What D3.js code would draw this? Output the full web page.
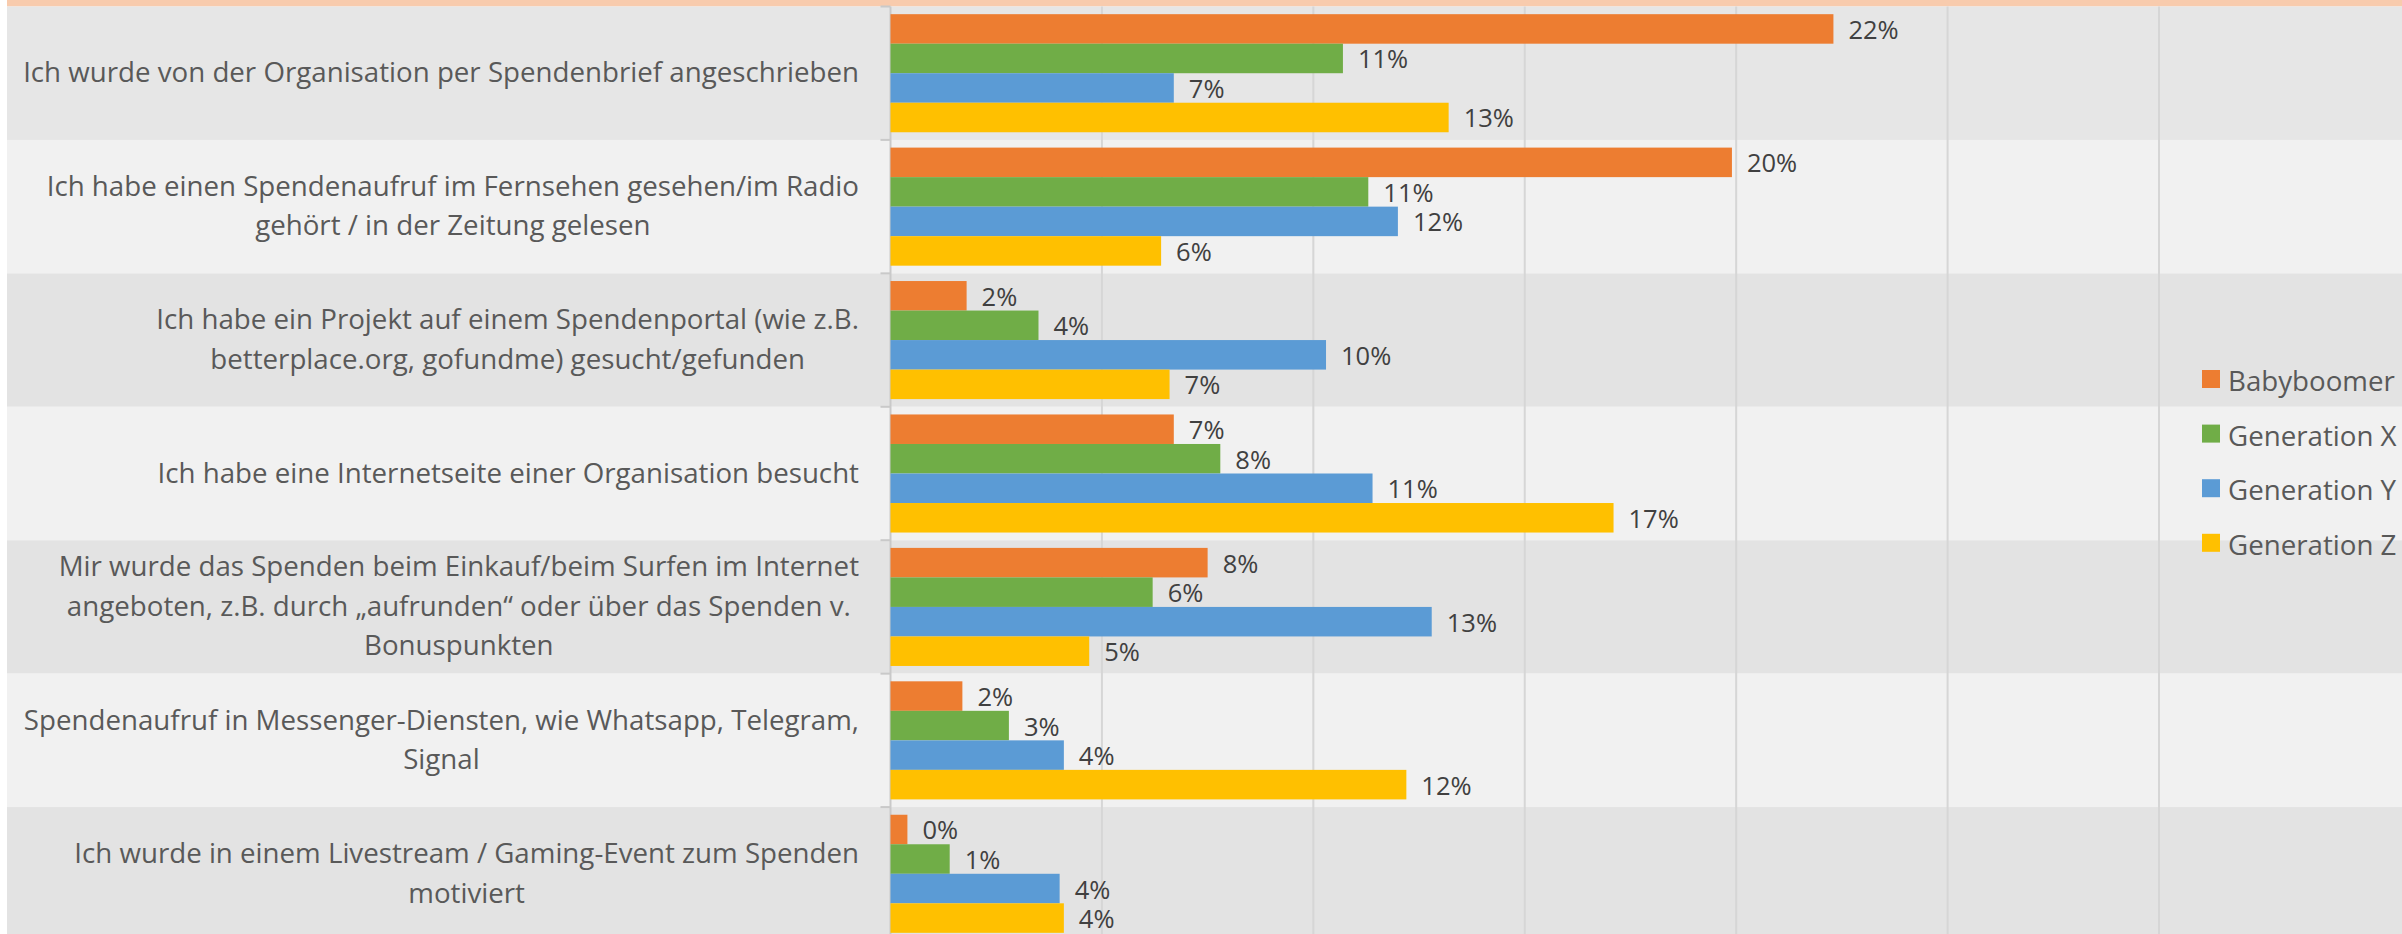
<!DOCTYPE html>
<html>
<head>
<meta charset="utf-8">
<script src="https://cdn.jsdelivr.net/npm/d3@7"></script>
<style>
    body { margin: 0; background: #ffffff; }
    svg { display: block; }
</style>
</head>
<body>
<div id="chart"></div>
<script>
//
// Grouped horizontal bar chart - Spendenanlass nach Generation
//

const categories = [
    "Ich wurde von der Organisation per Spendenbrief angeschrieben",
    "Ich habe einen Spendenaufruf im Fernsehen gesehen/im Radio\ngehört / in der Zeitung gelesen",
    "Ich habe ein Projekt auf einem Spendenportal (wie z.B.\nbetterplace.org, gofundme) gesucht/gefunden",
    "Ich habe eine Internetseite einer Organisation besucht",
    "Mir wurde das Spenden beim Einkauf/beim Surfen im Internet\nangeboten, z.B. durch „aufrunden“ oder über das Spenden v.\nBonuspunkten",
    "Spendenaufruf in Messenger-Diensten, wie Whatsapp, Telegram,\nSignal",
    "Ich wurde in einem Livestream / Gaming-Event zum Spenden\nmotiviert"
];

const seriesNames = ["Babyboomer", "Generation X", "Generation Y", "Generation Z"];

// values in percent
const babyboomer = [22.3, 19.9, 1.8, 6.7, 7.5, 1.7, 0.4];
const generationX = [10.7, 11.3, 3.5, 7.8, 6.2, 2.8, 1.4];
const generationY = [6.7, 12.0, 10.3, 11.4, 12.8, 4.1, 4.0];
const generationZ = [13.2, 6.4, 6.6, 17.1, 4.7, 12.2, 4.1];

const gridTicks = [5, 10, 15, 20, 25, 30];

var _width = 2402;
var _height = 934;
var _colors = ['#ED7D31', '#70AD47', '#5B9BD5', '#FFC000'];
var _rowColors = ['#E3E3E3', '#F1F1F1'];
var _font = "'Open Sans', 'Noto Sans', sans-serif";

function drawChart(divName) {
    var seriesValues = [babyboomer, generationX, generationY, generationZ];
    var data = categories.map(function (c, i) {
        return {
            cat: c, idx: i,
            values: seriesNames.map(function (s, j) { return { name: s, value: seriesValues[j][i] }; })
        };
    });

    var svg = d3.select("#" + divName)
        .append("svg")
        .attr("width", _width)
        .attr("height", _height);

    var x = d3.scaleLinear().domain([0, 30]).range([890.5, 2159]);
    var y0 = d3.scaleBand().domain(d3.range(categories.length)).range([6.5, 940.5]).padding(0);
    var y1 = d3.scaleBand().domain(seriesNames).range([0, y0.bandwidth()]).paddingInner(0).paddingOuter(0.26);
    var color = d3.scaleOrdinal().domain(seriesNames).range(_colors);

    // top band
    svg.append("rect")
        .attr("x", 7).attr("y", 0)
        .attr("width", _width - 7).attr("height", 6.5)
        .attr("fill", "#F8CBAD");

    // row stripes (first one is a bit lighter in the original)
    svg.append("g")
        .selectAll("rect")
        .data(data)
        .enter()
        .append("rect")
        .attr("x", 7)
        .attr("y", function (d) { return y0(d.idx); })
        .attr("width", _width - 7)
        .attr("height", y0.bandwidth())
        .attr("fill", function (d) { return d.idx == 0 ? '#E6E6E6' : _rowColors[d.idx % 2]; });

    // gridlines
    svg.append("g")
        .selectAll("line")
        .data(gridTicks)
        .enter()
        .append("line")
        .attr("x1", function (d) { return x(d); })
        .attr("x2", function (d) { return x(d); })
        .attr("y1", 6.5)
        .attr("y2", _height)
        .attr("stroke", "#D6D6D6")
        .attr("stroke-width", 2);

    // category axis with tick marks between groups
    var axisG = svg.append("g");
    axisG.append("line")
        .attr("x1", x(0)).attr("x2", x(0))
        .attr("y1", 6.5).attr("y2", _height)
        .attr("stroke", "#C9C9C9")
        .attr("stroke-width", 2);
    axisG.selectAll(".tick")
        .data(d3.range(categories.length + 1))
        .enter()
        .append("line")
        .attr("x1", x(0) - 10).attr("x2", x(0))
        .attr("y1", function (d) { return 6.5 + d * y0.step(); })
        .attr("y2", function (d) { return 6.5 + d * y0.step(); })
        .attr("stroke", "#C9C9C9")
        .attr("stroke-width", 2);

    // bars
    var groups = svg.append("g")
        .selectAll("g")
        .data(data)
        .enter()
        .append("g")
        .attr("transform", function (d) { return "translate(0," + y0(d.idx) + ")"; });

    groups.selectAll("rect")
        .data(function (d) { return d.values; })
        .enter()
        .append("rect")
        .attr("x", x(0))
        .attr("y", function (d) { return y1(d.name); })
        .attr("width", function (d) { return x(d.value) - x(0); })
        .attr("height", y1.bandwidth())
        .attr("fill", function (d) { return color(d.name); });

    var fmt = d3.format(".0%");
    groups.selectAll("text")
        .data(function (d) { return d.values; })
        .enter()
        .append("text")
        .attr("x", function (d) { return x(d.value) + 15; })
        .attr("y", function (d) { return y1(d.name) + y1.bandwidth() / 2; })
        .attr("dominant-baseline", "central")
        .style("font-family", _font)
        .style("font-size", "25.5px")
        .attr("fill", "#404040")
        .text(function (d) { return fmt(d.value / 100); });

    createCategoryLabels(svg, data, y0);
    createLegend(svg, color);
}

function createCategoryLabels(svg, data, y0) {
    var rightX = 859;
    var lineHeight = 39.5;

    data.forEach(function (d) {
        var lines = d.cat.split("\n");
        var cy = y0(d.idx) + y0.bandwidth() / 2 - 2;
        var text = svg.append("text")
            .attr("text-anchor", "middle")
            .style("font-family", _font)
            .style("font-size", "27.7px")
            .attr("fill", "#595959");

        var tspans = lines.map(function (l, i) {
            return text.append("tspan")
                .attr("y", cy + (i - (lines.length - 1) / 2) * lineHeight)
                .attr("dominant-baseline", "central")
                .text(l);
        });
        var maxW = d3.max(tspans, function (t) { return t.node().getComputedTextLength(); });
        tspans.forEach(function (t) { t.attr("x", rightX - maxW / 2); });
    });
}

function createLegend(svg, color) {
    var legend = svg.selectAll(".legend")
        .data(seriesNames)
        .enter()
        .append("g")
        .attr("class", "legend")
        .attr("transform", function (d, idx) { return "translate(2202," + (379 + idx * 54.6) + ")"; });

    legend.append("rect")
        .attr("x", 0)
        .attr("y", -9)
        .attr("width", 18)
        .attr("height", 18)
        .attr("fill", function (d) { return color(d); });

    legend.append("text")
        .attr("x", 26)
        .attr("y", 1)
        .attr("dominant-baseline", "central")
        .style("font-family", _font)
        .style("font-size", "27.7px")
        .attr("fill", "#595959")
        .text(function (d) { return d; });
}

drawChart("chart");
</script>
</body>
</html>
